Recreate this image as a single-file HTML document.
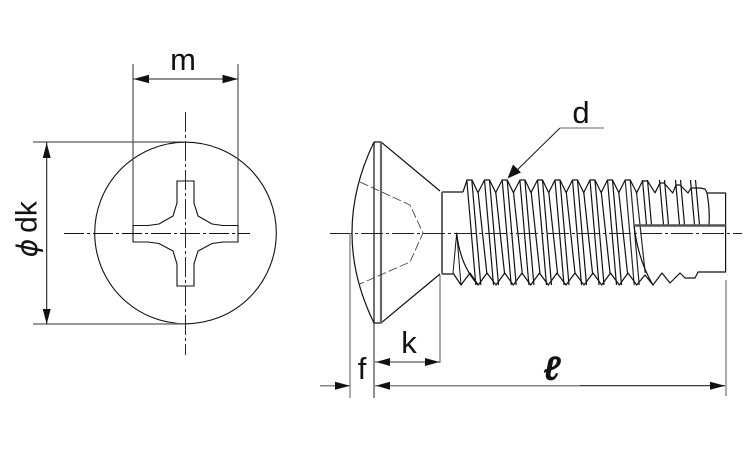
<!DOCTYPE html>
<html>
<head>
<meta charset="utf-8">
<style>
html,body{margin:0;padding:0;background:#fff;width:750px;height:450px;overflow:hidden}
svg{display:block}
text{font-family:"Liberation Sans",sans-serif;fill:#111;font-size:31px;text-anchor:middle}
</style>
</head>
<body>
<svg width="750" height="450" viewBox="0 0 750 450" xmlns="http://www.w3.org/2000/svg">
<defs>
<g id="t">
<path d="M-2.5 180L6.5 285M2.5 180L11.5 285M8.8 192.6L17.5 273" fill="none" stroke="#111" stroke-width="1.2"/>
</g>
<g id="s">
<path d="M-2.5 180L1.5 225M2.5 180L6.5 225" fill="none" stroke="#111" stroke-width="1.2"/>
</g>
</defs>

<!-- LEFT VIEW -->
<g fill="none" stroke="#111" stroke-width="1.1">
<circle cx="185.5" cy="233" r="90.8" fill="#fff"/>
<path d="M133 225.5H148L159 224L173 216L177 203V181H194V203L198 216L212 224L223 225.5H238V242H223L212 243.5L198 251L194 264V286H177V264L173 251L159 243.5L148 242H133Z" fill="#fff"/>
<path d="M64 233.5H250M185.5 112V355" stroke-width="0.9" stroke-dasharray="20 3 3 3"/>
<path d="M133 64V225M238 64V225" stroke="#444"/>
<path d="M33 142H185" stroke="#333"/>
<path d="M33 324H185" stroke="#777" stroke-width="1.5"/>
<path d="M133 79H238M46.7 142V324" stroke="#222"/>
</g>
<g fill="#111">
<path d="M133.500 79L149 74.800V83.200Z"/>
<path d="M238 79L222.500 74.800V83.200Z"/>
<path d="M46.700 143L42.700 158H50.700Z"/>
<path d="M46.700 324L42.700 309H50.700Z"/>
</g>
<text x="183" y="70">m</text>
<text transform="translate(36.500 217) rotate(-90)" style="font-size:30px">dk</text>
<text transform="translate(37 248) rotate(-90)" style="font-size:28px;font-style:italic;font-family:'DejaVu Sans',sans-serif">ϕ</text>

<!-- RIGHT VIEW: HEAD -->
<g fill="none" stroke="#111" stroke-width="1.2">
<path d="M374 142H381L440 191M374 323H381L440 274"/>
<path d="M374 142Q330 233 374 323"/>
<path d="M374 142V323"/>
<path d="M381 142V323" stroke="#666" stroke-width="2.2"/>
<path d="M360 182L410 205L423 233L410 262L360 284" stroke="#333" stroke-width="0.8" stroke-dasharray="9 3"/>
<path d="M442 192V274" stroke-width="1.3"/>
<path d="M442 192H463M442 274H453" stroke="#555" stroke-width="1.7"/>
</g>

<!-- THREADS -->
<g>
<use href="#t" x="469.300"/><use href="#t" x="487"/><use href="#t" x="504.700"/><use href="#t" x="522.400"/>
<use href="#t" x="540"/><use href="#t" x="557.500"/><use href="#t" x="575"/><use href="#t" x="592.500"/>
<use href="#t" x="610"/><use href="#t" x="627.700" opacity="0.9"/>
<use href="#s" x="645"/><use href="#s" x="662"/><use href="#s" x="678"/><use href="#s" x="693"/>
</g>
<g fill="none" stroke="#111" stroke-width="1.2" stroke-linejoin="round">
<path d="M463 192L467 180H472L478 192.600L484.500 180H489.500L495.700 192.600L502.200 180H507.200L513.400 192.600L520 180H525L531 192.600L537.500 180H542.500L548.700 192.600L555 180H560L566.200 192.600L572.500 180H577.500L583.700 192.600L590 180H595L601.200 192.600L607.500 180H612.500L618.800 192.600L625.200 180H630.200L636.700 192.800L642.500 181H647.500L655 192.800L660 183H664L672.700 193L676 185H680L688 193L691 188H700L705 189L707 193H725.600V272H698L695 278H685L680 273L670 283L662 273L653 285L645 275L636.700 285L628 273L619.300 285L610.500 273L601.700 285L593 273L584 285L575 273L566 285L557 273L548.300 285L539.500 273L530.700 285L522 273L513.300 285L504.700 273L496 285L487 273L478.300 285L470 273L461 285L453 273"/>
<path d="M707 193Q710 210 709 225M456.700 233Q460 265 478 285M634 225Q638 260 653 285"/>
<path d="M453 273L456.700 233L461 285" stroke-width="1"/>
<path d="M634 225.500H725.600" stroke="#555" stroke-width="2.400"/>
</g>

<!-- CENTRE LINE -->
<path d="M330 233.500H742" fill="none" stroke="#222" stroke-width="0.9" stroke-dasharray="22 3 3 3"/>

<!-- DIMENSIONS -->
<g fill="none" stroke="#333" stroke-width="1.1">
<path d="M350 233V398" stroke="#888" stroke-width="1.4"/>
<path d="M374 323V398"/>
<path d="M440 275V363" stroke="#666"/>
<path d="M726 280V396" stroke="#666"/>
<path d="M375 362H440"/>
<path d="M320 385.700H350M375 385.700H580" stroke="#888" stroke-width="1.500"/>
<path d="M580 385.700H725" stroke="#222"/>
<path d="M560 128L510 177" stroke="#222"/>
<path d="M560 128H604" stroke="#999" stroke-width="1.500"/>
</g>
<g fill="#111">
<path d="M350 385.700L335 381.700V389.700Z"/>
<path d="M376 385.700L390 381.700V389.700Z"/>
<path d="M725 385.700L710 381.700V389.700Z"/>
<path d="M376 362L390 358V366Z"/>
<path d="M439.500 362L425 358V366Z"/>
<path d="M507.500 178.500L513 164.500L521 172.500Z"/>
</g>
<text x="409" y="353">k</text>
<text x="362" y="379">f</text>
<text x="581" y="123">d</text>
<text x="552" y="380" style="font-size:34px;font-style:italic;font-weight:bold">ℓ</text>
</svg>
</body>
</html>
